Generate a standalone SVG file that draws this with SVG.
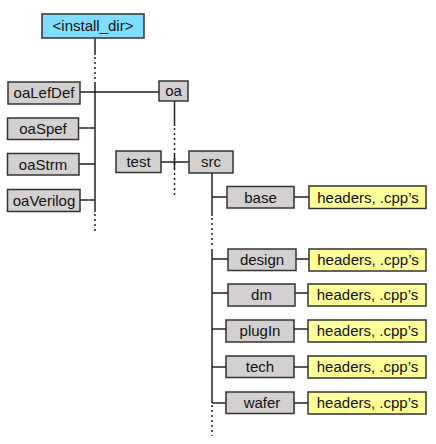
<svg xmlns="http://www.w3.org/2000/svg" width="436" height="444" viewBox="0 0 436 444">
<style>
.box{stroke:#333;stroke-width:1.5}
.gray{fill:#D4D0D0}
.blue{fill:#80DDFF}
.yel{fill:#FFFF99}
text{font-family:"Liberation Sans",Arial,sans-serif;font-size:15px;fill:#111;text-anchor:middle}
.ln{stroke:#222;stroke-width:1.5;fill:none}
.dot{stroke:#222;stroke-width:1.5;fill:none;stroke-dasharray:2,3}
</style>
<rect width="436" height="444" fill="#fff"/>
<g id="connectors">
<line class="ln" x1="95" y1="38" x2="95" y2="55"/>
<line class="dot" x1="95" y1="57" x2="95" y2="80"/>
<line class="ln" x1="95" y1="82" x2="95" y2="212"/>
<line class="dot" x1="95" y1="214" x2="95" y2="234"/>
<line class="ln" x1="80" y1="92" x2="159" y2="92"/>
<line class="ln" x1="79" y1="128" x2="95" y2="128"/>
<line class="ln" x1="79" y1="164" x2="95" y2="164"/>
<line class="ln" x1="80" y1="200" x2="95" y2="200"/>
<line class="ln" x1="174.5" y1="101" x2="174.5" y2="126"/>
<line class="dot" x1="174.5" y1="128" x2="174.5" y2="196"/>
<line class="ln" x1="161" y1="162" x2="189" y2="162"/>
<line class="ln" x1="174.5" y1="155" x2="174.5" y2="169"/>
<line class="ln" x1="212" y1="173" x2="212" y2="216"/>
<line class="dot" x1="212" y1="218" x2="212" y2="248"/>
<line class="ln" x1="212" y1="249" x2="212" y2="403"/>
<line class="dot" x1="212" y1="405" x2="212" y2="436"/>
<line class="ln" x1="212" y1="197" x2="227" y2="197"/>
<line class="ln" x1="294" y1="197" x2="309" y2="197"/>
<line class="ln" x1="212" y1="259" x2="228" y2="259"/>
<line class="ln" x1="296" y1="259" x2="309" y2="259"/>
<line class="ln" x1="212" y1="293" x2="228" y2="293"/>
<line class="ln" x1="295" y1="293" x2="308" y2="293"/>
<line class="ln" x1="212" y1="329" x2="226" y2="329"/>
<line class="ln" x1="294" y1="329" x2="308" y2="329"/>
<line class="ln" x1="212" y1="367" x2="226" y2="367"/>
<line class="ln" x1="294" y1="367" x2="308" y2="367"/>
<line class="ln" x1="212" y1="403" x2="226" y2="403"/>
<line class="ln" x1="294" y1="403" x2="308" y2="403"/>
</g>
<g id="install_dir"><rect class="box blue" x="42" y="14" width="102" height="24"/><text x="93" y="31">&lt;install_dir&gt;</text></g>
<g id="oaLefDef"><rect class="box gray" x="8" y="82" width="72" height="22"/><text x="44" y="98">oaLefDef</text></g>
<g id="oaSpef"><rect class="box gray" x="7.5" y="118" width="71" height="21.5"/><text x="43" y="134">oaSpef</text></g>
<g id="oaStrm"><rect class="box gray" x="7.5" y="153.5" width="71.5" height="21.5"/><text x="43" y="169.5">oaStrm</text></g>
<g id="oaVerilog"><rect class="box gray" x="7.5" y="189.5" width="72.5" height="22"/><text x="44" y="206">oaVerilog</text></g>
<g id="oa"><rect class="box gray" x="159" y="81" width="29" height="20"/><text x="173.5" y="96">oa</text></g>
<g id="test"><rect class="box gray" x="116" y="151" width="45" height="21.5"/><text x="138.5" y="167">test</text></g>
<g id="src"><rect class="box gray" x="189" y="151" width="44" height="22"/><text x="211" y="167">src</text></g>
<g id="base"><rect class="box gray" x="227" y="186.5" width="67" height="21.5"/><text x="260.5" y="202.5">base</text></g>
<g id="base_files"><rect class="box yel" x="309" y="186" width="117" height="22.5"/><text x="368" y="202.5">headers, .cpp’s</text></g>
<g id="design"><rect class="box gray" x="228" y="249" width="68" height="21.5"/><text x="262" y="265">design</text></g>
<g id="design_files"><rect class="box yel" x="309" y="249" width="117" height="22"/><text x="368" y="265">headers, .cpp’s</text></g>
<g id="dm"><rect class="box gray" x="228" y="284" width="67" height="22"/><text x="261.5" y="299.5">dm</text></g>
<g id="dm_files"><rect class="box yel" x="308" y="284" width="118" height="22"/><text x="367.5" y="299.5">headers, .cpp’s</text></g>
<g id="plugIn"><rect class="box gray" x="226" y="320" width="68" height="22"/><text x="260" y="335.5">plugIn</text></g>
<g id="plugIn_files"><rect class="box yel" x="308" y="320" width="118" height="22"/><text x="367.5" y="335.5">headers, .cpp’s</text></g>
<g id="tech"><rect class="box gray" x="226" y="356" width="68" height="21.5"/><text x="260" y="372">tech</text></g>
<g id="tech_files"><rect class="box yel" x="308" y="356" width="118" height="22"/><text x="367.5" y="372">headers, .cpp’s</text></g>
<g id="wafer"><rect class="box gray" x="226" y="392" width="68" height="21.5"/><text x="262" y="408">wafer</text></g>
<g id="wafer_files"><rect class="box yel" x="308" y="392" width="118" height="22"/><text x="367.5" y="408">headers, .cpp’s</text></g>
</svg>
